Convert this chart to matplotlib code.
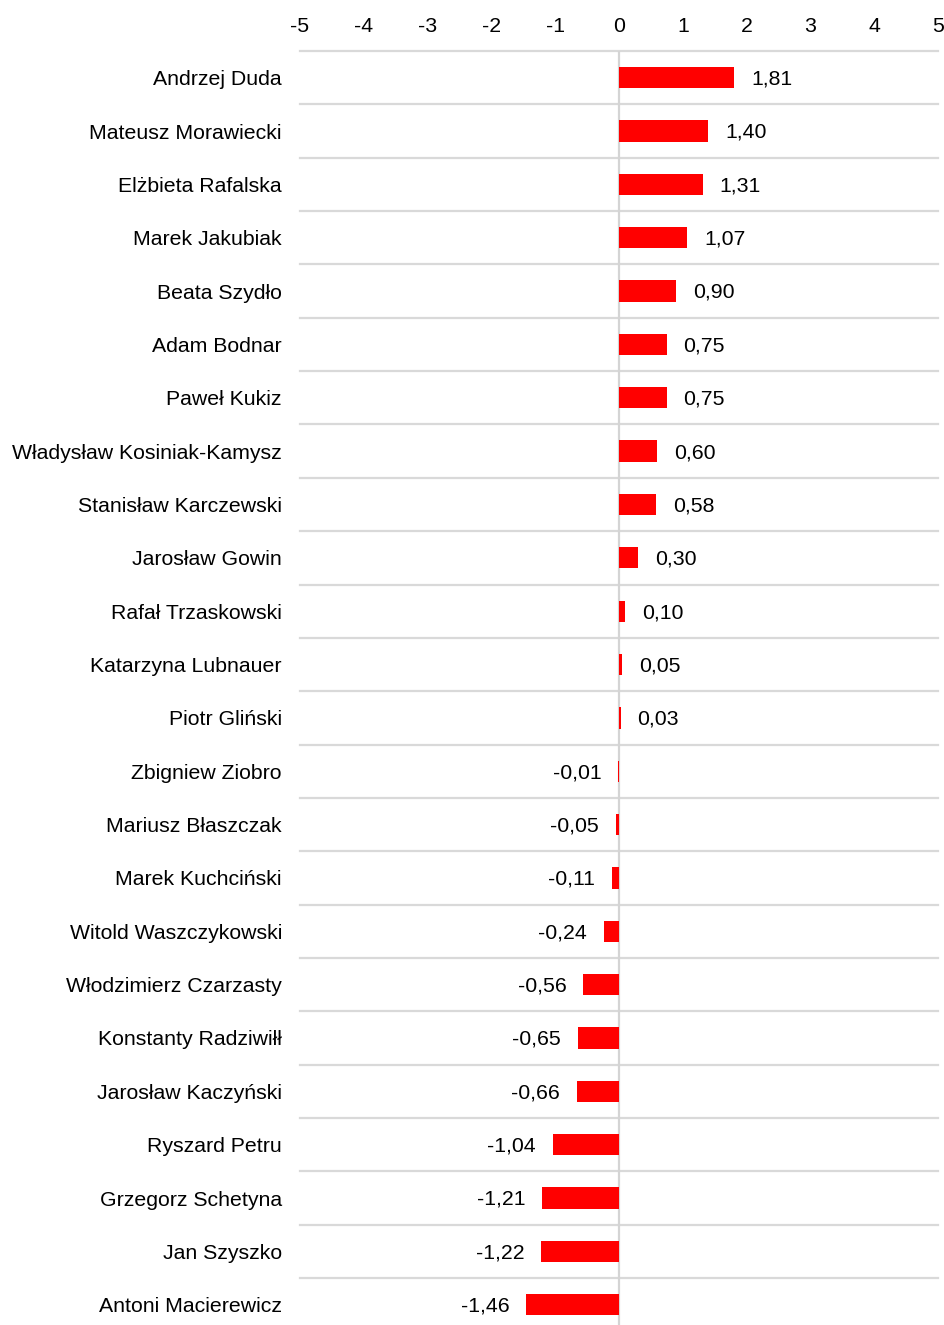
import matplotlib
matplotlib.use("Agg")
import matplotlib.pyplot as plt
from matplotlib.transforms import offset_copy

plt.rcParams['font.family'] = ['Liberation Sans', 'DejaVu Sans']

names = [
    "Andrzej Duda", "Mateusz Morawiecki", "Elżbieta Rafalska", "Marek Jakubiak",
    "Beata Szydło", "Adam Bodnar", "Paweł Kukiz", "Władysław Kosiniak-Kamysz",
    "Stanisław Karczewski", "Jarosław Gowin", "Rafał Trzaskowski",
    "Katarzyna Lubnauer", "Piotr Gliński", "Zbigniew Ziobro", "Mariusz Błaszczak",
    "Marek Kuchciński", "Witold Waszczykowski", "Włodzimierz Czarzasty",
    "Konstanty Radziwiłł", "Jarosław Kaczyński", "Ryszard Petru",
    "Grzegorz Schetyna", "Jan Szyszko", "Antoni Macierewicz",
]
values = [
    1.81, 1.40, 1.31, 1.07, 0.90, 0.75, 0.75, 0.60, 0.58, 0.30, 0.10, 0.05, 0.03,
    -0.01, -0.05, -0.11, -0.24, -0.56, -0.65, -0.66, -1.04, -1.21, -1.22, -1.46,
]
xticks = [-5, -4, -3, -2, -1, 0, 1, 2, 3, 4, 5]

W, H = 945, 1325
fig = plt.figure(figsize=(W / 100, H / 100), dpi=100)
left, right, top = 300, 938, 51
row_h = 53.35
ax = fig.add_axes([left / W, 0, (right - left) / W, (H - top) / H])

n = len(names)
ypos = list(range(n))
bottom_lim = (n - 0.5) - ((top + n * row_h) - H) / row_h
ax.set_ylim(bottom_lim, -0.5)
ax.set_xlim(-5, 5)

ax.barh(ypos, values, height=0.4, color="#ff0000", zorder=3)

# row separators
for b in range(n + 1):
    ax.axhline(b - 0.5, color="#d9d9d9", lw=1.6, zorder=1, clip_on=False)
ax.axvline(0, color="#d4d4d4", lw=1.6, zorder=2)

fs = 15.3
for y, v in zip(ypos, values):
    txt = f"{v:.2f}".replace(".", ",")
    if v >= 0:
        tr = offset_copy(ax.transData, fig=fig, x=12.0, y=-1.0, units="points")
        ax.text(v, y, txt, transform=tr, ha="left", va="center", fontsize=fs, color="#000000")
    else:
        tr = offset_copy(ax.transData, fig=fig, x=-12.0, y=-1.0, units="points")
        ax.text(v, y, txt, transform=tr, ha="right", va="center", fontsize=fs, color="#000000")

ax.set_yticks(ypos)
ax.set_yticklabels(names, fontsize=fs)
ax.xaxis.tick_top()
ax.set_xticks(xticks)
ax.set_xticklabels([str(t) for t in xticks], fontsize=fs)
ax.tick_params(axis="both", length=0)
ax.tick_params(axis="y", pad=13)
ax.tick_params(axis="x", pad=11)
for s in ax.spines.values():
    s.set_visible(False)

fig.savefig("out.png", dpi=100)
